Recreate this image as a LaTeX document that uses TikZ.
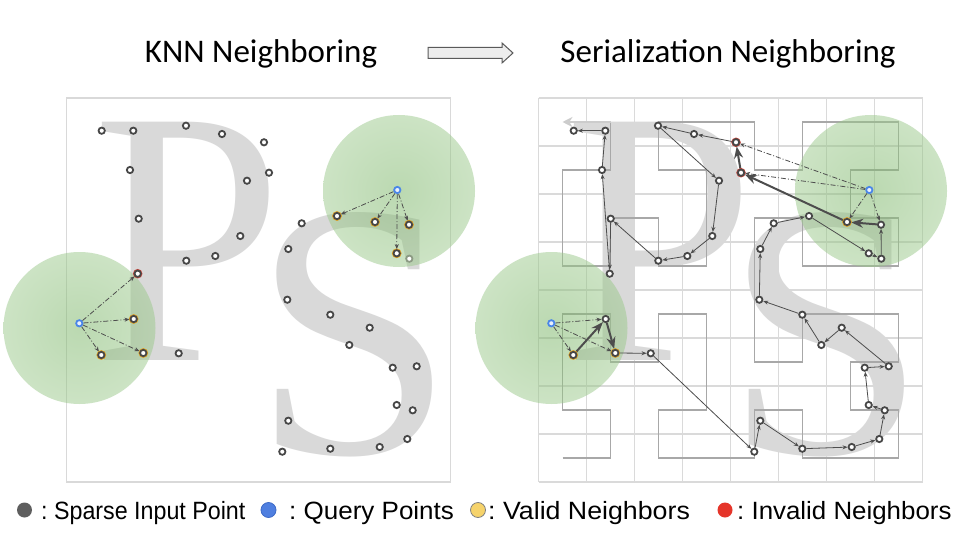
\documentclass[tikz,border=0pt]{standalone}
\usepackage{fontspec}
\usepackage{graphicx}
\usetikzlibrary{arrows.meta}
\newfontfamily\titlefont{Carlito}
\newfontfamily\legendfont{Liberation Sans}
\newfontfamily\glyphfont{Liberation Serif}
\definecolor{letterc}{HTML}{D9D9D9}
\definecolor{gridc}{HTML}{DADADA}
\definecolor{boxc}{HTML}{D9D9D9}
\definecolor{hilbc}{HTML}{A8A8A8}
\definecolor{hilbendc}{HTML}{CCCCCC}
\definecolor{ptc}{HTML}{474747}
\definecolor{fadec}{HTML}{8C9A84}
\definecolor{validc}{HTML}{E0A020}
\definecolor{invalidc}{HTML}{C8453A}
\definecolor{queryc}{HTML}{4A86E8}
\definecolor{arrc}{HTML}{4D4D4D}
\definecolor{gin}{RGB}{120,180,100}
\definecolor{gout}{RGB}{190,222,178}
\definecolor{tarrfill}{HTML}{EDEDED}
\definecolor{tarrline}{HTML}{5A5A5A}
\definecolor{legdark}{HTML}{5E5E5E}
\definecolor{legblue}{HTML}{4F7FE0}
\definecolor{legblueline}{HTML}{3D6AC7}
\definecolor{legyellow}{HTML}{F6D36B}
\definecolor{legred}{HTML}{E5352A}
\pgfdeclareradialshading{greenglow}{\pgfpoint{0bp}{0bp}}{color(0bp)=(gin); color(50bp)=(gout)}
\pgfdeclarelayer{bg}
\pgfdeclarelayer{mid}
\pgfsetlayers{bg,mid,main}
\tikzset{
  pt/.style={circle, draw=ptc, line width=1.8pt, fill=white, minimum size=6.3pt, inner sep=0pt, outer sep=1pt},
  vpt/.style={pt, preaction={draw=validc, line width=3.2pt}},
  ipt/.style={pt, preaction={draw=invalidc, line width=3pt}},
  qpt/.style={pt, draw=queryc, fill=queryc!12},
  fpt/.style={pt, draw=fadec},
  serarr/.style={draw=arrc, line width=0.8pt, -{Stealth[length=5pt,width=4pt]}},
  boldarr/.style={draw=arrc, line width=2pt, -{Stealth[length=12pt,width=9pt]}},
  qarr/.style={draw=arrc, line width=0.8pt, dash pattern=on 5pt off 2pt on 1pt off 2pt, -{Stealth[length=5pt,width=4pt]}},
  gridl/.style={draw=gridc, line width=1.9pt},
  boxl/.style={draw=boxc, line width=1.8pt},
  hilb/.style={draw=hilbc, line width=1.9pt, line join=miter},
  hilbend/.style={draw=hilbendc, line width=1.9pt, -{Stealth[length=10pt,width=10pt]}},
  glow/.style={shading=greenglow, opacity=0.5},
  letter/.style={anchor=base west, inner sep=0pt, outer sep=0pt, text=letterc, font=\glyphfont\fontsize{364}{364}\selectfont},
  legdot/.style={circle, minimum size=15pt, inner sep=0pt, line width=0.8pt},
  legtext/.style={anchor=base west, inner sep=0pt, font=\legendfont\fontsize{25}{28}\selectfont},
  titletext/.style={anchor=base, inner sep=0pt, font=\titlefont\fontsize{33}{38}\selectfont},
}
\begin{document}
\begin{tikzpicture}[x=1pt,y=-1pt]
\useasboundingbox (0,0) rectangle (960,540);

\begin{pgfonlayer}{bg}
  \fill[white] (0,0) rectangle (960,540);
  % left panel
  \draw[boxl] (66.5,98) rectangle (450.5,482);
  \node[letter] (letPL) at (92.5,360) {\scalebox{0.94}[1]{P}};
  \node[letter] (letSL) at (252.7,453) {S};
  \shade[glow] (79.5,328) circle[radius=76pt];
  \shade[glow] (399,191) circle[radius=76pt];
  % right panel
  \begin{scope}[xshift=472pt]
    \foreach \i in {0,...,8} {
      \draw[gridl] ({66.5+48*\i},98) -- ({66.5+48*\i},482);
      \draw[gridl] (66.5,{98+48*\i}) -- (450.5,{98+48*\i});
    }
    \node[letter] (letPR) at (92.5,360) {\scalebox{0.94}[1]{P}};
    \node[letter] (letSR) at (252.7,453) {S};
    \begin{scope}[shift={(90.5,458)}, x=48pt, y=48pt]
      \draw[hilb] (0,0)--(1,0)--(1,1)--(0,1)--(0,2)--(0,3)--(1,3)--(1,2)--(2,2)--(2,3)--(3,3)--(3,2)--(3,1)--(2,1)--(2,0)--(3,0)
        --(4,0)--(4,1)--(5,1)--(5,0)--(6,0)--(7,0)--(7,1)--(6,1)--(6,2)--(7,2)--(7,3)--(6,3)--(5,3)--(5,2)--(4,2)--(4,3)
        --(4,4)--(4,5)--(5,5)--(5,4)--(6,4)--(7,4)--(7,5)--(6,5)--(6,6)--(7,6)--(7,7)--(6,7)--(5,7)--(5,6)--(4,6)--(4,7)
        --(3,7)--(2,7)--(2,6)--(3,6)--(3,5)--(3,4)--(2,4)--(2,5)--(1,5)--(1,4)--(0,4)--(0,5)--(0,6)--(1,6)--(1,7);
      \draw[hilbend] (1,7) -- (0,7);
    \end{scope}
    \shade[glow] (79.5,328) circle[radius=76pt];
    \shade[glow] (399,191) circle[radius=76pt];
  \end{scope}
\end{pgfonlayer}

% ---------- left panel points ----------
\node[pt] (L1) at (101.7,130.7) {};
\node[pt] (L2) at (133.3,130.7) {};
\node[pt] (L3) at (186,125.7) {};
\node[pt] (L4) at (222,134) {};
\node[pt] (L5) at (264,142.3) {};
\node[pt] (L6) at (130,170) {};
\node[pt] (L7) at (269,172.7) {};
\node[pt] (L8) at (247,180.7) {};
\node[pt] (L9) at (138.7,218.7) {};
\node[pt] (L10) at (240.3,236) {};
\node[pt] (L11) at (215.3,256) {};
\node[pt] (L12) at (186.3,260.7) {};
\node[ipt] (L13) at (137.7,273.7) {};
\node[qpt] (L14) at (79.3,323.3) {};
\node[vpt] (L15) at (133.7,319) {};
\node[vpt] (L16) at (101.3,355) {};
\node[vpt] (L17) at (143.3,353) {};
\node[pt] (L18) at (178.7,353.3) {};
\node[vpt] (L19) at (337,216) {};
\node[pt] (L20) at (301.7,223.3) {};
\node[vpt] (L21) at (375,222) {};
\node[vpt] (L22) at (409,224.7) {};
\node[qpt] (L23) at (397.3,190) {};
\node[vpt] (L24) at (396.7,253.3) {};
\node[fpt] (L25) at (409.3,258.7) {};
\node[pt] (L26) at (288.3,249) {};
\node[pt] (L27) at (287.3,299.7) {};
\node[pt] (L28) at (330.3,314.7) {};
\node[pt] (L29) at (369.7,327.7) {};
\node[pt] (L30) at (349.3,345) {};
\node[pt] (L31) at (392.7,367.7) {};
\node[pt] (L32) at (416.7,366.3) {};
\node[pt] (L33) at (396.7,405) {};
\node[pt] (L34) at (412.7,410.3) {};
\node[pt] (L35) at (288.3,420.7) {};
\node[pt] (L36) at (407.3,439) {};
\node[pt] (L37) at (330.3,448.7) {};
\node[pt] (L38) at (379.7,447) {};
\node[pt] (L39) at (282.3,451.7) {};

% ---------- right panel points ----------
\begin{scope}[xshift=472pt]
\node[pt] (R1) at (101.7,130.7) {};
\node[pt] (R2) at (133.3,130.7) {};
\node[pt] (R3) at (186,125.7) {};
\node[pt] (R4) at (222,134) {};
\node[ipt] (R5) at (264,142.3) {};
\node[pt] (R6) at (130,170) {};
\node[ipt] (R7) at (269,172.7) {};
\node[pt] (R8) at (247,180.7) {};
\node[pt] (R9) at (138.7,218.7) {};
\node[pt] (R10) at (240.3,236) {};
\node[pt] (R11) at (215.3,256) {};
\node[pt] (R12) at (186.3,260.7) {};
\node[pt] (R13) at (137.7,273.7) {};
\node[qpt] (R14) at (79.3,323.3) {};
\node[pt] (R15) at (133.7,319) {};
\node[vpt] (R16) at (101.3,355) {};
\node[vpt] (R17) at (143.3,353) {};
\node[pt] (R18) at (178.7,353.3) {};
\node[pt] (R19) at (337,216) {};
\node[pt] (R20) at (301.7,223.3) {};
\node[vpt] (R21) at (375,222) {};
\node[pt] (R22) at (409,224.7) {};
\node[qpt] (R23) at (397.3,190) {};
\node[pt] (R24) at (396.7,253.3) {};
\node[pt] (R25) at (409.3,258.7) {};
\node[pt] (R26) at (288.3,249) {};
\node[pt] (R27) at (287.3,299.7) {};
\node[pt] (R28) at (330.3,314.7) {};
\node[pt] (R29) at (369.7,327.7) {};
\node[pt] (R30) at (349.3,345) {};
\node[pt] (R31) at (392.7,367.7) {};
\node[pt] (R32) at (416.7,366.3) {};
\node[pt] (R33) at (396.7,405) {};
\node[pt] (R34) at (412.7,410.3) {};
\node[pt] (R35) at (288.3,420.7) {};
\node[pt] (R36) at (407.3,439) {};
\node[pt] (R37) at (330.3,448.7) {};
\node[pt] (R38) at (379.7,447) {};
\node[pt] (R39) at (282.3,451.7) {};
\end{scope}

\begin{pgfonlayer}{mid}
  % KNN query arrows
  \foreach \b in {13,15,16,17} \draw[qarr] (L14) -- (L\b);
  \foreach \b in {19,21,22,24} \draw[qarr] (L23) -- (L\b);
  \foreach \b in {15,16,17} \draw[qarr] (R14) -- (R\b);
  \foreach \b in {5,7,21,22} \draw[qarr] (R23) -- (R\b);
  % serialization chain
  \foreach \a/\b in {16/15,15/17,22/21,21/7,7/5} \draw[boldarr] (R\a) -- (R\b);
  \foreach \a/\b in {17/18,18/39,39/35,35/37,37/38,38/36,36/34,34/33,33/31,31/32,32/29,29/30,30/28,28/27,27/26,26/20,20/19,19/24,24/25,25/22,5/4,4/3,3/8,8/10,10/11,11/12,12/9,9/13,13/6,6/2,2/1}
    \draw[serarr] (R\a) -- (R\b);
\end{pgfonlayer}

% ---------- titles ----------
\node[titletext] (t1) at (261,63) {KNN Neighboring};
\node[titletext] (t2) at (728,63) {Serialization Neighboring};
\draw[fill=tarrfill, draw=tarrline, line width=1pt, line join=miter]
  (428,47.5) -- (502,47.5) -- (502,43) -- (513,53) -- (502,63) -- (502,58.5) -- (428,58.5) -- cycle;

% ---------- legend ----------
\node[legdot, fill=legdark] (lg1) at (24.5,510) {};
\node[legtext] (lt1) at (41,519) {\scalebox{0.93}[1]{:~Sparse Input Point}};
\node[legdot, fill=legblue, draw=legblueline] (lg2) at (268.5,510) {};
\node[legtext] (lt2) at (289,519) {\scalebox{1.04}[1]{:~Query Points}};
\node[legdot, fill=legyellow, draw=gray] (lg3) at (478,510) {};
\node[legtext] (lt3) at (488,519) {\scalebox{1.07}[1]{:~Valid Neighbors}};
\node[legdot, fill=legred] (lg4) at (725,510) {};
\node[legtext] (lt4) at (737,519) {\scalebox{1.035}[1]{:~Invalid Neighbors}};
\end{tikzpicture}
\end{document}
